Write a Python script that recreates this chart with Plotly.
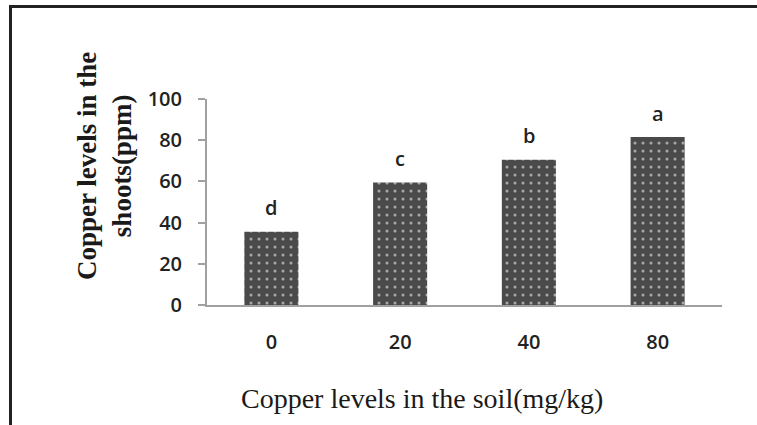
import plotly.graph_objects as go

categories = ["0", "20", "40", "80"]
values = [35.5, 59.5, 70.5, 81.5]
letters = ["d", "c", "b", "a"]
y_ticks = [0, 20, 40, 60, 80, 100]

# plot area in pixels (for layout bookkeeping)
L, R, T, B = 207, 722, 99, 305
W, H = 757, 425
pw, ph = R - L, B - T

def px(x):
    return (x - L) / pw

def py(y):
    return (B - y) / ph

fig = go.Figure()
fig.add_trace(go.Bar(
    x=categories, y=values,
    marker=dict(color="#4a4a4a",
                line=dict(width=0),
                pattern=dict(shape=".", fgcolor="white", bgcolor="#4a4a4a",
                             size=8, solidity=0.12)),
    showlegend=False,
))

for i, (v, t) in enumerate(zip(values, letters)):
    fig.add_annotation(x=i, y=v, text=t, showarrow=False, yshift=24,
                       font=dict(family="Open Sans", size=20, color="#222", weight=600))

fig.add_annotation(xref="paper", yref="paper", x=px(104), y=py(166),
                   xanchor="center", yanchor="middle",
                   text="Copper levels in the<br>shoots(ppm)", textangle=-90,
                   showarrow=False,
                   font=dict(family="Liberation Serif", size=27, color="#1a1a1a", weight="bold"))
fig.add_annotation(xref="paper", yref="paper", x=px(422), y=py(398),
                   xanchor="center", yanchor="middle",
                   text="Copper levels in the soil(mg/kg)", showarrow=False,
                   font=dict(family="Liberation Serif", size=28, color="#1a1a1a"))

# outer frame (left and top lines)
fig.add_shape(type="line", xref="paper", yref="paper",
              x0=px(10.5), x1=px(10.5), y0=py(6), y1=py(440),
              line=dict(color="#222", width=3))
fig.add_shape(type="line", xref="paper", yref="paper",
              x0=px(9), x1=px(770), y0=py(6.5), y1=py(6.5),
              line=dict(color="#222", width=3))

fig.update_layout(
    width=W, height=H,
    margin=dict(l=L, r=W - R, t=T, b=H - B),
    paper_bgcolor="white", plot_bgcolor="white",
    bargap=0.58,
    font=dict(family="Open Sans", size=20, color="#222"),
)
fig.update_xaxes(type="category", range=[-0.5, 3.5], showline=True,
                 linecolor="#a0a0a0", linewidth=2,
                 ticks="outside", ticklen=1, tickcolor="rgba(0,0,0,0)",
                 ticklabelstandoff=17, showgrid=False,
                 tickfont=dict(family="Open Sans", size=20, color="#222", weight=600))
fig.update_yaxes(range=[0, 100], tickvals=y_ticks, showline=True, linecolor="#a0a0a0",
                 linewidth=2, ticks="outside", ticklen=7, tickcolor="#a0a0a0",
                 tickwidth=1.5, ticklabelstandoff=12, showgrid=False, zeroline=False,
                 tickfont=dict(family="Open Sans", size=20, color="#222", weight=600))

fig.write_html("out.html", config={"displayModeBar": False},
               post_script="document.body.style.margin='0';")
